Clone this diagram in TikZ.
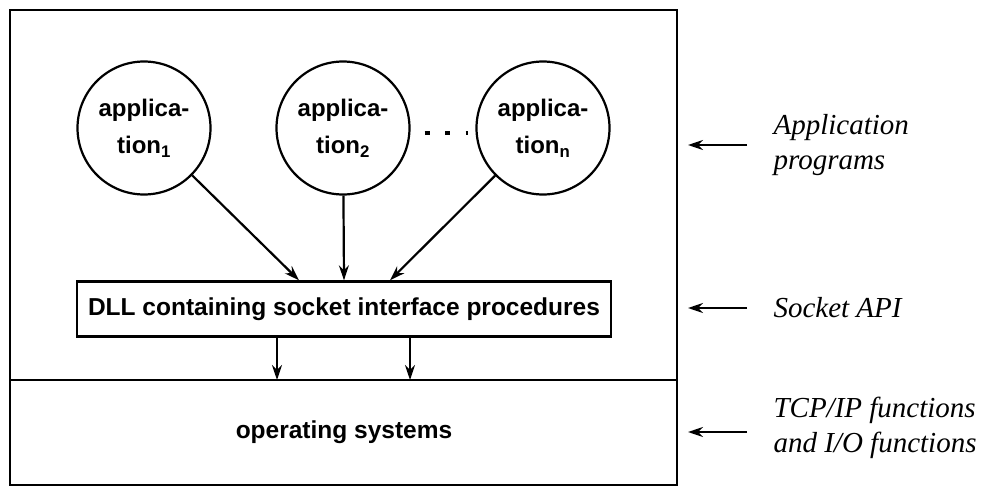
\documentclass[tikz,border=0pt]{standalone}
\usepackage{fontspec}
\setmainfont{Liberation Serif}
\setsansfont{Liberation Sans}
\usetikzlibrary{positioning,arrows.meta,calc}

\tikzset{
  app/.style={draw,line width=2.2pt,circle,minimum size=133pt,inner sep=0pt,align=center,
    font=\sffamily\bfseries\fontsize{24}{37}\selectfont},
  layer/.style={line width=2.6pt},
  call/.style={-{Stealth[length=15pt,width=10pt]},line width=2.2pt},
  side/.style={anchor=west,align=left,font=\itshape\fontsize{29}{35}\selectfont},
}

\begin{document}
\begin{tikzpicture}[x=1pt,y=-1pt]
\useasboundingbox (0,0) rectangle (992,487);
% layers
\draw[layer] (10,10) rectangle (677,485);
\draw[layer] (10,380) -- (677,380);
% applications
\node[app] (app1) at (144,128) {applica-\\tion\textsubscript{1}};
\node[app] (app2) at (343,128) {applica-\\tion\textsubscript{2}};
\node[app] (appn) at (543,128) {applica-\\tion\textsubscript{n}};
\draw[line width=4pt,dash pattern=on 5pt off 15.5pt,shorten <=14pt,shorten >=7pt]
  ([yshift=-5pt]app2.east) -- ([yshift=-5pt]appn.west);
% socket layer
\node[draw,line width=2.4pt,minimum width=534pt,minimum height=55pt,
  font=\sffamily\bfseries\fontsize{24.5}{30}\selectfont] (dll) at (344,309)
  {DLL containing socket interface procedures};
\draw[call] (app1) -- ([xshift=-45pt]dll.north);
\draw[call] (app2) -- (dll.north);
\draw[call] (appn) -- ([xshift=46pt]dll.north);
\coordinate (down1) at (277,380);
\coordinate (down2) at (410,380);
\draw[call] (dll.south -| down1) -- (down1);
\draw[call] (dll.south -| down2) -- (down2);
\node[font=\sffamily\bfseries\fontsize{24.5}{30}\selectfont] (os) at (344,432) {operating systems};
% right side labels
\node[side] (lblapp) at (770,145) {Application\\programs};
\node[side] (lblapi) at (770,308) {Socket API};
\node[side] (lblos) at (770,428) {TCP/IP functions\\and I/O functions};
\coordinate (tipapp) at (688,145);
\coordinate (tipapi) at (688,308);
\coordinate (tipos) at (688,432);
\draw[call] ([xshift=-23pt]lblapp.west) -- (tipapp);
\draw[call] ([xshift=-23pt]lblapi.west) -- (tipapi);
\draw[call] ([xshift=-23pt,yshift=-4pt]lblos.west) -- (tipos);
\end{tikzpicture}
\end{document}
